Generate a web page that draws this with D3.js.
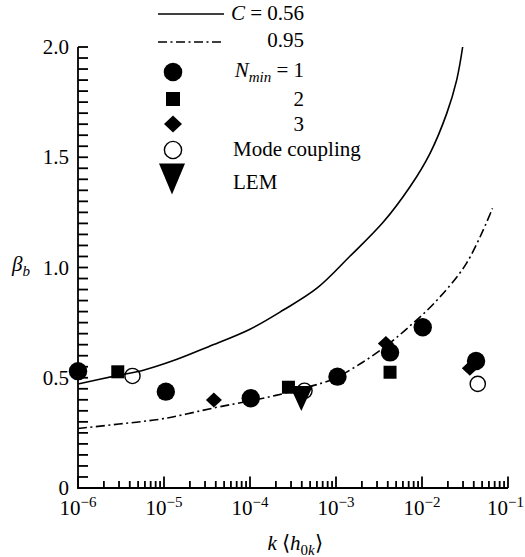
<!DOCTYPE html>
<html>
<head>
<meta charset="utf-8">
<script src="https://cdn.jsdelivr.net/npm/d3@7"></script>
<style>
  html, body { margin: 0; padding: 0; background: #fff; }
  svg { display: block; }
</style>
</head>
<body>
<svg id="chart" width="525" height="557"></svg>
<script>
// Model curves: beta_b against k<h0k>, one per value of C
const curveC056 = [
  [1e-6, 0.472], [3e-6, 0.512], [5.5e-6, 0.532], [1.34e-5, 0.58], [3.3e-5, 0.641],
  [1e-4, 0.72], [2.44e-4, 0.807], [6e-4, 0.906], [1.46e-3, 1.052], [3.55e-3, 1.206],
  [7.25e-3, 1.366], [1.24e-2, 1.518], [1.94e-2, 1.699], [2.53e-2, 1.85], [2.97e-2, 2.0]
];
const curveC095 = [
  [1e-6, 0.27], [3e-6, 0.29], [1e-5, 0.315], [4e-5, 0.365], [1e-4, 0.395],
  [2e-4, 0.42], [4e-4, 0.45], [7e-4, 0.477], [1e-3, 0.50], [2e-3, 0.568],
  [4e-3, 0.65], [7e-3, 0.73], [1.4e-2, 0.84], [3.3e-2, 1.02], [6.6e-2, 1.268]
];

// Measured points
const nmin1 = [[1e-6, 0.53], [1.05e-5, 0.437], [1.02e-4, 0.407], [1.04e-3, 0.505],
               [4.25e-3, 0.615], [1.02e-2, 0.729], [4.25e-2, 0.576]];
const nmin2 = [[2.9e-6, 0.527], [2.8e-4, 0.457], [4.25e-3, 0.525]];
const nmin3 = [[3.8e-5, 0.399], [3.8e-3, 0.655], [3.6e-2, 0.543]];
const modeCoupling = [[4.3e-6, 0.508], [4.3e-4, 0.441], [4.45e-2, 0.472]];
const lem = [[3.95e-4, 0.406]];

// Axis ticks
const yTickValues = [0, 0.5, 1.0, 1.5, 2.0];
const yTickLabels = ["0", "0.5", "1.0", "1.5", "2.0"];
const xTickExponents = [-6, -5, -4, -3, -2, -1];

const FONT = "Liberation Serif, Times New Roman, serif";
const FS = 21, FS_SMALL = 15;
const W = 525, H = 557;
const m = { left: 78, right: 17, top: 47, bottom: 69 };
const svg = d3.select("#chart").attr("font-family", FONT);

const x = d3.scaleLog().domain([1e-6, 1e-1]).range([m.left, W - m.right]);
const y = d3.scaleLinear().domain([0, 2]).range([H - m.bottom, m.top]);

const SW = 1.8;

// ---- axes ----
const xMajor = xTickExponents.map(e => Math.pow(10, e));
const xMinor = [];
xTickExponents.slice(0, -1).forEach(e => {
  for (let k = 2; k <= 9; k++) xMinor.push(k * Math.pow(10, e));
});
const yMinor = d3.range(0, 41).map(i => +(i * 0.05).toFixed(2));

const y0 = y(0), x0 = x(1e-6);

// left and bottom axis lines
svg.append("path")
  .attr("d", `M${x0},${y(2)}V${y0}H${x(1e-1)}`)
  .attr("fill", "none").attr("stroke", "#000").attr("stroke-width", SW);

// inward tick marks
const tg = svg.append("g").attr("stroke", "#000").attr("stroke-width", SW);
tg.selectAll("line.xm").data(xMinor).join("line").attr("class", "xm")
  .attr("x1", d => x(d)).attr("x2", d => x(d)).attr("y1", y0).attr("y2", y0 - 7);
tg.selectAll("line.xM").data(xMajor).join("line").attr("class", "xM")
  .attr("x1", d => x(d)).attr("x2", d => x(d)).attr("y1", y0).attr("y2", y0 - 11.5);
tg.selectAll("line.yt").data(yMinor).join("line").attr("class", "yt")
  .attr("x1", x0).attr("x2", x0 + 10).attr("y1", d => y(d)).attr("y2", d => y(d));

// x tick labels: powers of ten
svg.append("g").selectAll("text").data(xTickExponents).join("text")
  .attr("x", e => x(Math.pow(10, e)))
  .attr("y", y0 + 27)
  .attr("text-anchor", "middle")
  .attr("font-size", FS)
  .attr("fill", "#000")
  .each(function (e) {
    const t = d3.select(this);
    t.append("tspan").text("10");
    t.append("tspan").attr("font-size", FS_SMALL).attr("dy", -8).text("\u2212" + Math.abs(e));
    // keep the last label inside the page
    const bb = this.getBBox();
    const over = bb.x + bb.width - (W - 1);
    if (over > 0) t.attr("x", x(Math.pow(10, e)) - over);
  });

// y tick labels
svg.append("g").selectAll("text").data(yTickValues).join("text")
  .attr("x", x0 - 9)
  .attr("y", d => y(d) + 7)
  .attr("text-anchor", "end")
  .attr("font-size", FS)
  .attr("fill", "#000")
  .text((d, i) => yTickLabels[i]);

// axis titles
const yTitle = svg.append("text").attr("x", 12).attr("y", 271)
  .attr("font-size", FS).attr("fill", "#000");
yTitle.append("tspan").attr("font-style", "italic").text("\u03B2");
yTitle.append("tspan").attr("font-style", "italic").attr("font-size", FS_SMALL).attr("dy", 5).text("b");

const xTitle = svg.append("text").attr("x", 295).attr("y", 550).attr("text-anchor", "middle")
  .attr("font-size", FS).attr("fill", "#000");
xTitle.append("tspan").attr("font-style", "italic").text("k");
xTitle.append("tspan").text(" \u27E8");
xTitle.append("tspan").attr("font-style", "italic").text("h");
xTitle.append("tspan").attr("font-size", FS_SMALL).attr("dy", 5).text("0");
xTitle.append("tspan").attr("font-size", FS_SMALL).attr("font-style", "italic").text("k");
xTitle.append("tspan").attr("dy", -5).text("\u27E9");

// ---- curves ----
const line = d3.line().x(d => x(d[0])).y(d => y(d[1])).curve(d3.curveCatmullRom.alpha(0.5));
const DASHDOT = "9,3.5,2,3.5";

svg.append("path").datum(curveC056)
  .attr("d", line).attr("fill", "none").attr("stroke", "#000").attr("stroke-width", 1.6);
svg.append("path").datum(curveC095)
  .attr("d", line).attr("fill", "none").attr("stroke", "#000").attr("stroke-width", 1.6)
  .attr("stroke-dasharray", DASHDOT);

// ---- markers ----
function squarePath(s) { const h = s / 2; return `M${-h},${-h}H${h}V${h}H${-h}Z`; }
function diamondPath(w, hgt) { const a = w / 2, b = hgt / 2; return `M0,${-b}L${a},0L0,${b}L${-a},0Z`; }
function trianglePath(w, hgt) { const a = w / 2, b = hgt / 2; return `M${-a},${-b}H${a}L0,${b}Z`; }

const marks = svg.append("g");
marks.selectAll(".mc").data(modeCoupling).join("circle")
  .attr("cx", d => x(d[0])).attr("cy", d => y(d[1])).attr("r", 7.6)
  .attr("fill", "none").attr("stroke", "#000").attr("stroke-width", 1.4);
marks.selectAll(".n1").data(nmin1).join("circle")
  .attr("cx", d => x(d[0])).attr("cy", d => y(d[1])).attr("r", 9.2).attr("fill", "#000");
marks.selectAll(".n2").data(nmin2).join("path")
  .attr("transform", d => `translate(${x(d[0])},${y(d[1])})`)
  .attr("d", squarePath(13)).attr("fill", "#000");
marks.selectAll(".n3").data(nmin3).join("path")
  .attr("transform", d => `translate(${x(d[0])},${y(d[1])})`)
  .attr("d", diamondPath(16, 15)).attr("fill", "#000");
marks.selectAll(".lem").data(lem).join("path")
  .attr("transform", d => `translate(${x(d[0])},${y(d[1])})`)
  .attr("d", trianglePath(23, 25)).attr("fill", "#000");

// ---- legend ----
const lg = svg.append("g");
const lx0 = 158, lx1 = 224, mx = 173, tEnd = 304, tStart = 233;
const rowY = [14, 42, 72, 99, 124, 150, 179];
const textY = [20, 47, 77, 106, 131, 156, 189];

lg.append("line").attr("x1", lx0).attr("x2", lx1).attr("y1", rowY[0]).attr("y2", rowY[0])
  .attr("stroke", "#000").attr("stroke-width", 1.6);
lg.append("line").attr("x1", lx0).attr("x2", lx1).attr("y1", rowY[1]).attr("y2", rowY[1])
  .attr("stroke", "#000").attr("stroke-width", 1.6).attr("stroke-dasharray", DASHDOT);
lg.append("circle").attr("cx", mx).attr("cy", rowY[2]).attr("r", 9.3).attr("fill", "#000");
lg.append("path").attr("transform", `translate(${mx},${rowY[3]})`).attr("d", squarePath(14)).attr("fill", "#000");
lg.append("path").attr("transform", `translate(${mx},${rowY[4]})`).attr("d", diamondPath(18, 17)).attr("fill", "#000");
lg.append("circle").attr("cx", mx).attr("cy", rowY[5]).attr("r", 8.6)
  .attr("fill", "none").attr("stroke", "#000").attr("stroke-width", 1.4);
lg.append("path").attr("transform", `translate(${mx - 1},${rowY[6]})`).attr("d", trianglePath(26, 31)).attr("fill", "#000");

function ltext(i, anchor, xpos) {
  return lg.append("text").attr("x", xpos).attr("y", textY[i])
    .attr("text-anchor", anchor).attr("font-size", FS).attr("fill", "#000");
}
const t0 = ltext(0, "end", tEnd);
t0.append("tspan").attr("font-style", "italic").text("C");
t0.append("tspan").text(" = 0.56");
ltext(1, "end", tEnd).text("0.95");
const t2 = ltext(2, "end", tEnd);
t2.append("tspan").attr("font-style", "italic").text("N");
t2.append("tspan").attr("font-style", "italic").attr("font-size", FS_SMALL).attr("dy", 5).text("min");
t2.append("tspan").attr("dy", -5).text(" = 1");
ltext(3, "end", tEnd).text("2");
ltext(4, "end", tEnd).text("3");
ltext(5, "start", tStart).text("Mode coupling");
ltext(6, "start", tStart).text("LEM");
</script>
</body>
</html>
